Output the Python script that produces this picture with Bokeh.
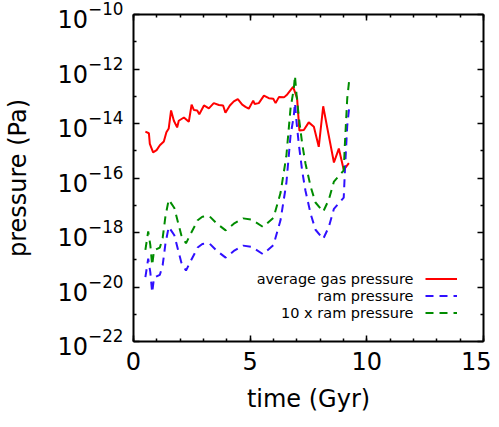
from bokeh.plotting import figure
from bokeh.models import (Range1d, FixedTicker, LinearAxis, LogAxis, Legend, LegendItem, Label,
                          CustomJSTickFormatter)
from bokeh.embed import file_html
from bokeh.resources import INLINE

# average gas pressure (Pa) vs time (Gyr)
gas_time = [0.51, 0.66, 0.70, 0.84, 0.99, 1.13, 1.30, 1.41, 1.51, 1.61, 1.73, 1.87, 1.94,
            2.16, 2.37, 2.49, 2.59, 2.73, 2.82, 3.02, 3.23, 3.44, 3.66, 3.84, 3.94, 4.13,
            4.30, 4.47, 4.66, 4.80, 4.94, 5.13, 5.19, 5.37, 5.59, 5.80, 5.99, 6.09, 6.23,
            6.45, 6.59, 6.84, 7.01, 7.11, 7.30, 7.51, 7.73, 7.94, 8.13, 8.30, 8.59, 8.80,
            9.01, 9.23]
gas_pressure = [5.0e-15, 4.4e-15, 1.8e-15, 8.7e-16, 1.05e-15, 1.6e-15, 2.2e-15, 4.8e-15,
                6.6e-15, 3.0e-14, 1.26e-14, 7.2e-15, 1.26e-14, 1.66e-14, 1.15e-14, 4.9e-14,
                3.1e-14, 3.0e-14, 2.2e-14, 4.6e-14, 3.6e-14, 5.6e-14, 4.8e-14, 4.6e-14,
                2.5e-14, 4.6e-14, 6.5e-14, 7.9e-14, 4.9e-14, 4.1e-14, 3.5e-14, 6.9e-14,
                5.2e-14, 5.6e-14, 1.05e-13, 8.5e-14, 8.1e-14, 5.6e-14, 9.3e-14, 9.1e-14,
                1.17e-13, 2.2e-13, 8.5e-14, 5.5e-15, 5.8e-15, 1.1e-14, 7.6e-15, 1.4e-15,
                4.3e-14, 7.2e-15, 3.7e-16, 1.2e-15, 2.0e-16, 3.5e-16]

# ram pressure (Pa) vs time (Gyr)
ram_time = [0.51, 0.63, 0.72, 0.80, 0.88, 1.13, 1.25, 1.37, 1.51, 1.75, 1.90, 2.05, 2.25,
            2.45, 2.75, 2.95, 3.25, 3.55, 3.95, 4.30, 4.70, 5.05, 5.55, 6.00, 6.30, 6.55,
            6.73, 6.87, 6.92, 6.99, 7.09, 7.23, 7.37, 7.59, 7.80, 8.13, 8.37, 8.59, 9.01,
            9.06, 9.16, 9.25]
ram_pressure = [2.3e-20, 1.1e-19, 3.5e-20, 6.3e-21, 2.2e-20, 2.8e-20, 6.3e-20, 4.0e-19,
                1.6e-18, 7.9e-19, 2.5e-19, 7.9e-20, 4.0e-20, 8.9e-20, 2.8e-19, 3.8e-19,
                4.0e-19, 2.2e-19, 1.2e-19, 2.1e-19, 3.3e-19, 3.0e-19, 1.6e-19, 3.5e-19,
                2.8e-18, 6.3e-17, 3.6e-15, 1.9e-14, 5.6e-14, 1.07e-14, 1.6e-15, 1.8e-16,
                3.4e-17, 4.9e-18, 1.26e-18, 5.8e-19, 1.6e-18, 7.4e-18, 1.9e-17, 1.8e-16,
                8.3e-15, 4.3e-14]
ram_factor = 10

series_labels = ["average gas pressure", "ram pressure", "10 x ram pressure"]
x_ticks = [0, 5, 10, 15]
x_minor = list(range(0, 16))
y_ticks = [1e-22, 1e-20, 1e-18, 1e-16, 1e-14, 1e-12, 1e-10]
y_minor = [1e-21, 1e-19, 1e-17, 1e-15, 1e-13, 1e-11]

FONT = "DejaVu Sans"
RED, BLUE, GREEN = "#ff0000", "#3010ff", "#008c00"

p = figure(width=491, height=419, x_range=Range1d(0, 15), y_range=Range1d(1e-22, 1e-10),
           y_axis_type="log", output_backend="svg", toolbar_location=None,
           min_border_left=133, min_border_right=8, min_border_top=14, min_border_bottom=78,
           background_fill_color="white", border_fill_color="white")
p.grid.visible = False
p.outline_line_color = None

r_gas = p.line(gas_time, gas_pressure, line_color=RED, line_width=2)
r_ram = p.line(ram_time, ram_pressure, line_color=BLUE, line_width=2, line_dash="8 6")
r_ram10 = p.line(ram_time, [v * ram_factor for v in ram_pressure], line_color=GREEN,
                 line_width=2, line_dash="8 6")

def style(ax):
    ax.axis_line_color = "black"
    ax.axis_line_width = 2
    ax.major_tick_line_color = "black"
    ax.minor_tick_line_color = "black"
    ax.major_tick_line_width = 1.5
    ax.minor_tick_line_width = 1.5
    ax.major_tick_in = 6
    ax.major_tick_out = 0
    ax.minor_tick_in = 3
    ax.minor_tick_out = 0
    ax.major_label_text_font = FONT
    ax.major_label_text_font_size = "24px"
    ax.major_label_text_color = "black"
    ax.axis_label_text_font = FONT
    ax.axis_label_text_font_size = "24px"
    ax.axis_label_text_font_style = "normal"
    ax.axis_label_text_color = "black"

xa = p.xaxis[0]
xa.ticker = FixedTicker(ticks=x_ticks, minor_ticks=x_minor)
xa.axis_label = "time (Gyr)"
xa.major_label_standoff = 10
xa.axis_label_standoff = 12
style(xa)

ya = p.yaxis[0]
ya.ticker = FixedTicker(ticks=y_ticks, minor_ticks=y_minor)
ya.axis_label = "pressure (Pa)"
ya.major_label_standoff = 10
ya.axis_label_standoff = 23
style(ya)

blank = CustomJSTickFormatter(code="return '';")
top = LinearAxis(ticker=FixedTicker(ticks=x_ticks, minor_ticks=x_minor), formatter=blank)
style(top)
top.major_label_standoff = 0
top.major_label_text_font_size = "1px"
p.add_layout(top, "above")
right = LogAxis(ticker=FixedTicker(ticks=y_ticks, minor_ticks=y_minor), formatter=blank)
style(right)
right.major_label_standoff = 0
right.major_label_text_font_size = "1px"
p.add_layout(right, "right")

legend = Legend(items=[LegendItem(label=" ", renderers=[r_gas]),
                       LegendItem(label=" ", renderers=[r_ram]),
                       LegendItem(label=" ", renderers=[r_ram10])],
                location=(292, 20), orientation="vertical",
                padding=0, margin=0, spacing=0, glyph_height=17, glyph_width=32,
                label_height=17, label_width=0, label_standoff=0,
                label_text_font_size="1px",
                background_fill_alpha=0, border_line_alpha=0)
p.add_layout(legend, "center")

for i, txt in enumerate(series_labels):
    p.add_layout(Label(x=280, y=63 - 17 * i, x_units="screen", y_units="screen", text=txt,
                       text_align="right", text_baseline="middle", text_font=FONT,
                       text_font_size="14.5px", text_color="black"))

open("out.html", "w").write(file_html(p, INLINE))
